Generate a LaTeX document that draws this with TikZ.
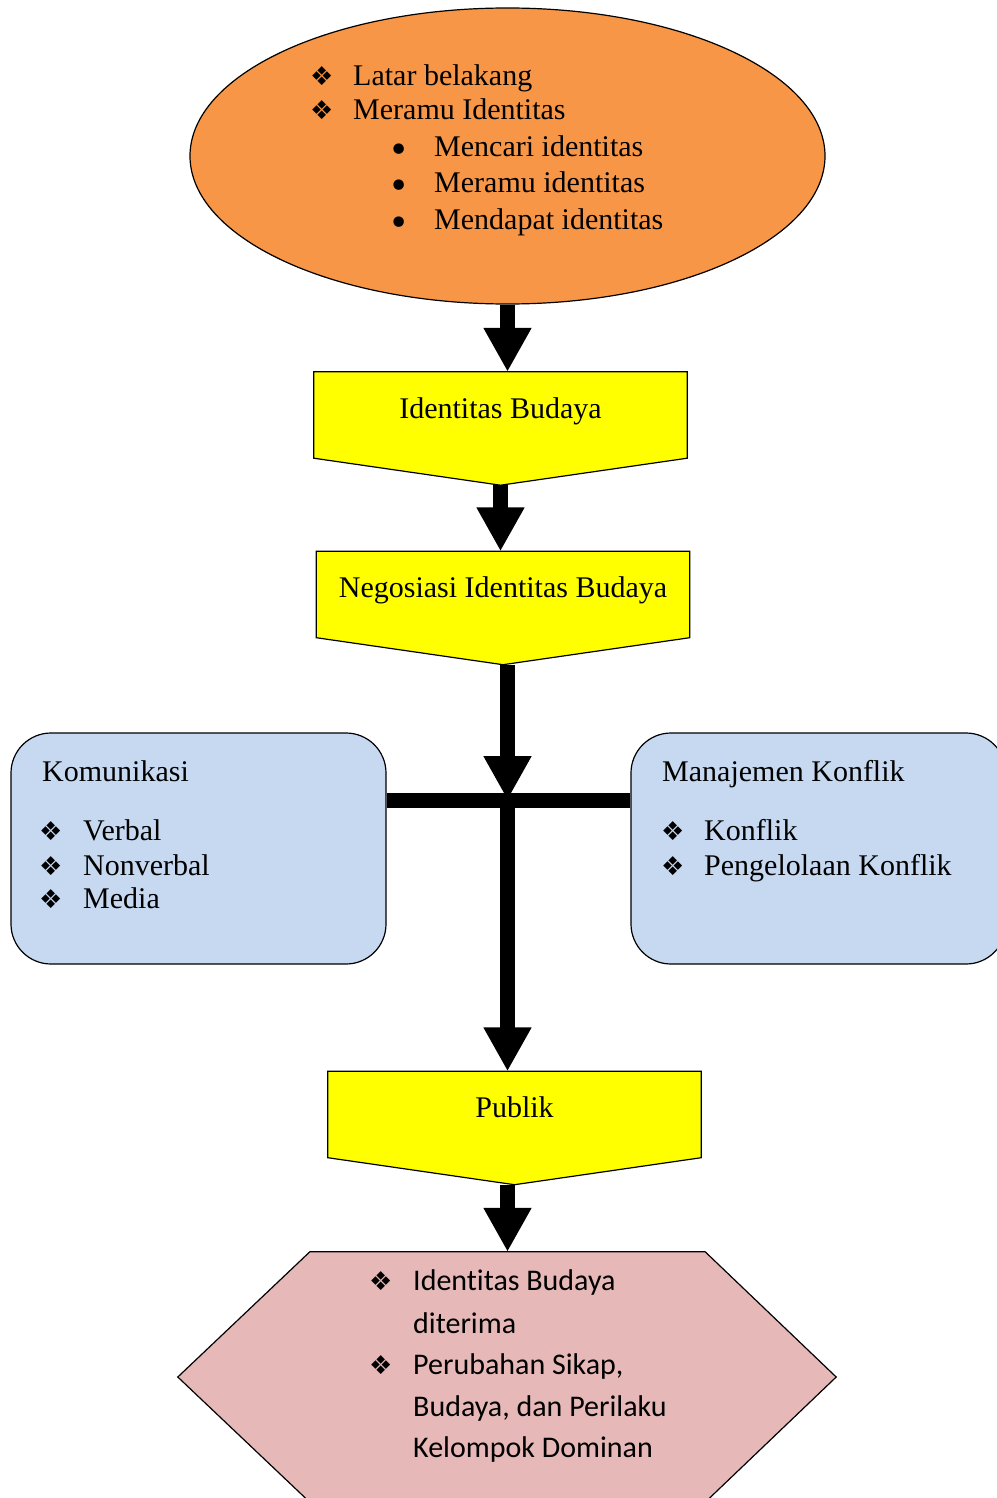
\documentclass[tikz,border=0pt]{standalone}
\usepackage{fontspec}
\setmainfont[Ligatures=NoCommon]{Liberation Serif}
\newfontfamily\simbol{DejaVu Sans}
\newfontfamily\calibri[Ligatures=NoCommon]{Carlito}
\usepackage{tikz}
\usepackage{xcolor}
\usetikzlibrary{shapes.geometric,arrows.meta,backgrounds}

\definecolor{jingga}{HTML}{F79646}
\definecolor{kuning}{HTML}{FFFF00}
\definecolor{biru}{HTML}{C6D9F1}
\definecolor{merahmuda}{HTML}{E6B9B8}

\begin{document}
\begin{tikzpicture}[x=1pt,y=-1pt,font=\fontsize{30}{36}\selectfont,
    garis/.style={draw=black,line width=1.2pt},
    kotak/.style={rectangle,minimum width=373pt,minimum height=86pt,text height=21pt,text depth=15pt,inner sep=0pt},
    kartu/.style={garis,rectangle,rounded corners=40pt,fill=biru,minimum width=375pt,minimum height=231pt},
    teks/.style={anchor=base west,inner sep=0pt},
    tekscal/.style={teks,font=\calibri\fontsize{30}{36}\selectfont},
    butir/.style={anchor=base west,inner sep=0pt,font=\simbol\fontsize{26}{30}\selectfont},
    titik/.style={anchor=base west,inner sep=0pt,font=\simbol\fontsize{36}{36}\selectfont},
    panah/.style={line width=15pt,-{Triangle[width=45pt,length=44pt]}}]
    \useasboundingbox (0,0) rectangle (996,1498);

    \node[garis,ellipse,fill=jingga,minimum width=635pt,minimum height=296pt] (asal) at (507.5,156) {};
    \foreach \y/\isi in {86/Latar belakang, 120/Meramu Identitas} {
        \node[butir] (asal-b\y) at (310,\y) {❖};
        \node[teks] (asal-t\y) at (353,\y) {\isi};
    }
    \foreach \y/\isi in {157/Mencari identitas, 193/Meramu identitas, 229/Mendapat identitas} {
        \node[titik] (asal-b\y) at (388,\y+6) {•};
        \node[teks] (asal-t\y) at (434,\y) {\isi};
    }

    \node[kotak] (ib) at (500.5,415) {Identitas Budaya};
    \node[kotak] (nib) at (503,594.5) {Negosiasi Identitas Budaya};
    \node[kotak] (pub) at (514.5,1114.5) {Publik};

    \node[kartu] (kom) at (198.5,848.5) {};
    \node[kartu] (mk) at (818.5,848.5) {};
    \node[teks] (kom-judul) at (42,781) {Komunikasi};
    \node[teks] (mk-judul) at (662,781) {Manajemen Konflik};
    \foreach \y/\isi in {840/Verbal, 875/Nonverbal, 908/Media} {
        \node[butir] (kom-b\y) at (39,\y) {❖};
        \node[teks] (kom-t\y) at (83,\y) {\isi};
    }
    \foreach \y/\isi in {840/Konflik, 875/Pengelolaan Konflik} {
        \node[butir] (mk-b\y) at (661,\y) {❖};
        \node[teks] (mk-t\y) at (704,\y) {\isi};
    }

    \node[rectangle,minimum width=395pt,minimum height=250pt,inner sep=0pt] (hasil) at (507.5,1377) {};
    \foreach \y in {1290,1374} {
        \node[butir] (hasil-b\y) at (369,\y) {❖};
    }
    \foreach \y/\isi in {1290/Identitas Budaya, 1333/diterima, 1374/{Perubahan Sikap,}, 1416/{Budaya, dan Perilaku}, 1457/Kelompok Dominan} {
        \node[tekscal] (hasil-t\y) at (413,\y) {\isi};
    }

    \begin{scope}[on background layer]
        \foreach \n in {ib,nib,pub} {
            \draw[garis,fill=kuning] (\n.north west) -- (\n.north east) -- (\n.south east)
                -- ([yshift=-27pt]\n.south) -- (\n.south west) -- cycle;
            \coordinate (\n-ujung) at ([yshift=-27pt]\n.south);
        }
        \draw[garis,fill=merahmuda] (hasil.north west) -- (hasil.north east) -- ([xshift=131pt]hasil.east)
            -- (hasil.south east) -- (hasil.south west) -- ([xshift=-132pt]hasil.west) -- cycle;
    \end{scope}

    \coordinate (simpang) at (507.5,800);
    \draw[panah] (asal.south) -- (asal.south |- ib.north);
    \draw[panah] (ib-ujung) -- (ib-ujung |- nib.north);
    \draw[panah] (simpang |- nib-ujung) -- (simpang);
    \draw[line width=15pt] (kom.east |- simpang) -- (mk.west |- simpang);
    \draw[panah] (simpang) -- (simpang |- pub.north);
    \draw[panah] (hasil.north |- pub-ujung) -- (hasil.north);
\end{tikzpicture}
\end{document}
